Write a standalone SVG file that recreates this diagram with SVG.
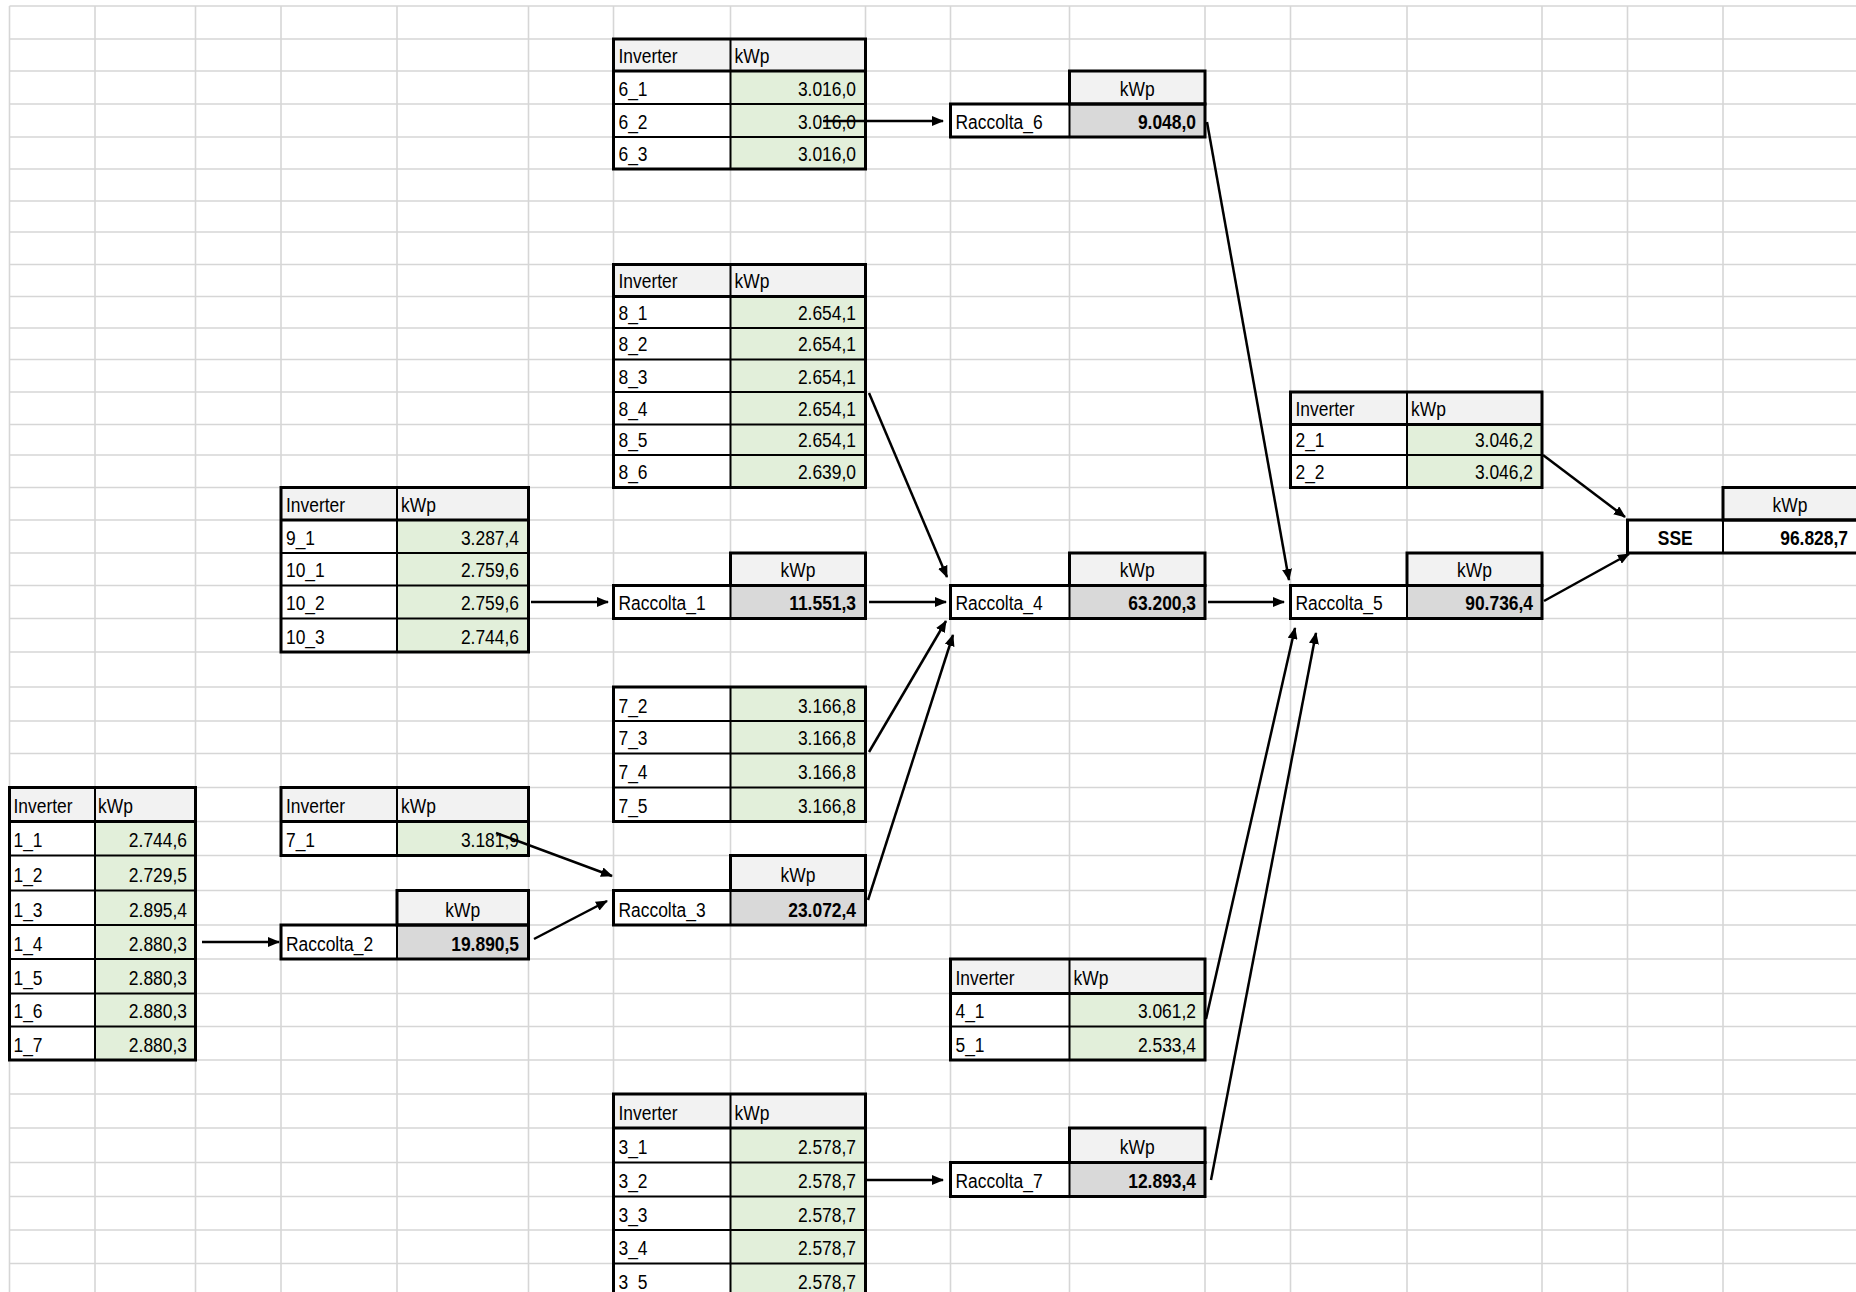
<svg xmlns="http://www.w3.org/2000/svg" width="1856" height="1292" viewBox="0 0 1856 1292">
<style>
.gl{stroke:#d6d6d6;stroke-width:1.6;fill:none}
.hdr{fill:#f2f2f2}
.wt{fill:#ffffff}
.val{fill:#e2efda}
.tot{fill:#d9d9d9}
.in{stroke:#000;stroke-width:2;fill:none}
.out{stroke:#000;stroke-width:3;fill:none}
text{font-family:"Liberation Sans",Arial,sans-serif;font-size:21px;fill:#000;transform-box:fill-box;transform-origin:left center;transform:scaleX(0.83)}
.r{text-anchor:end;transform-origin:right center}
.c{text-anchor:middle;transform-origin:center center}
.b{font-weight:bold}
.cn{stroke:#000;stroke-width:2.5;fill:none;marker-end:url(#ah)}
</style>
<defs>
<marker id="ah" markerUnits="userSpaceOnUse" markerWidth="12" markerHeight="10" refX="11" refY="5" orient="auto">
<path d="M0,0 L12,5 L0,10 z" fill="#000"/>
</marker>
</defs>
<rect x="0" y="0" width="1856" height="1292" fill="#fff"/>
<g id="grid">
<path class="gl" d="M9.5,6V1292M95,6V1292M195.5,6V1292M281,6V1292M397,6V1292M528.5,6V1292M613.5,6V1292M730.5,6V1292M865.5,6V1292M950.5,6V1292M1069.5,6V1292M1205,6V1292M1290.5,6V1292M1407,6V1292M1542,6V1292M1627.5,6V1292M1723,6V1292"/>
<path class="gl" d="M9.5,6H1856M9.5,39H1856M9.5,71H1856M9.5,104H1856M9.5,137H1856M9.5,169H1856M9.5,201H1856M9.5,232H1856M9.5,264.5H1856M9.5,296.5H1856M9.5,328H1856M9.5,359.5H1856M9.5,392H1856M9.5,424.5H1856M9.5,455H1856M9.5,487.5H1856M9.5,520H1856M9.5,553H1856M9.5,585.5H1856M9.5,618.5H1856M9.5,652H1856M9.5,687H1856M9.5,721H1856M9.5,753.5H1856M9.5,787.5H1856M9.5,821.5H1856M9.5,855.5H1856M9.5,890.5H1856M9.5,925H1856M9.5,959H1856M9.5,993.5H1856M9.5,1026.5H1856M9.5,1060H1856M9.5,1094H1856M9.5,1128H1856M9.5,1162.5H1856M9.5,1196.5H1856M9.5,1230H1856M9.5,1263.5H1856"/>
</g>

<g id="table6">
<rect class="hdr" x="613.5" y="39" width="252" height="32"/>
<rect class="wt" x="613.5" y="71" width="117" height="98"/>
<rect class="val" x="730.5" y="71" width="135" height="98"/>
<path class="in" d="M613.5,104H865.5M613.5,137H865.5M730.5,39V169"/>
<path class="out" d="M613.5,71H865.5"/>
<rect class="out" x="613.5" y="39" width="252" height="130"/>
<text x="618.5" y="63">Inverter</text><text x="734.5" y="63">kWp</text>
<text x="618.5" y="96">6_1</text><text class="r" x="856" y="96">3.016,0</text>
<text x="618.5" y="129">6_2</text><text class="r" x="856" y="129">3.016,0</text>
<text x="618.5" y="161">6_3</text><text class="r" x="856" y="161">3.016,0</text>
</g>

<g id="raccolta6">
<rect class="hdr" x="1069.5" y="71" width="135.5" height="33"/>
<rect class="wt" x="950.5" y="104" width="119" height="33"/>
<rect class="tot" x="1069.5" y="104" width="135.5" height="33"/>
<rect class="out" x="1069.5" y="71" width="135.5" height="33"/>
<rect class="out" x="950.5" y="104" width="254.5" height="33"/>
<path class="in" d="M1069.5,104V137"/>
<text class="c" x="1137.25" y="96">kWp</text>
<text x="955.5" y="129">Raccolta_6</text><text class="r b" x="1196" y="129">9.048,0</text>
</g>

<g id="table8">
<rect class="hdr" x="613.5" y="264.5" width="252" height="32"/>
<rect class="wt" x="613.5" y="296.5" width="117" height="191"/>
<rect class="val" x="730.5" y="296.5" width="135" height="191"/>
<path class="in" d="M613.5,328H865.5M613.5,359.5H865.5M613.5,392H865.5M613.5,424.5H865.5M613.5,455H865.5M730.5,264.5V487.5"/>
<path class="out" d="M613.5,296.5H865.5"/>
<rect class="out" x="613.5" y="264.5" width="252" height="223"/>
<text x="618.5" y="288.5">Inverter</text><text x="734.5" y="288.5">kWp</text>
<text x="618.5" y="320">8_1</text><text class="r" x="856" y="320">2.654,1</text>
<text x="618.5" y="351.5">8_2</text><text class="r" x="856" y="351.5">2.654,1</text>
<text x="618.5" y="384">8_3</text><text class="r" x="856" y="384">2.654,1</text>
<text x="618.5" y="416.5">8_4</text><text class="r" x="856" y="416.5">2.654,1</text>
<text x="618.5" y="447">8_5</text><text class="r" x="856" y="447">2.654,1</text>
<text x="618.5" y="479.5">8_6</text><text class="r" x="856" y="479.5">2.639,0</text>
</g>

<g id="table2">
<rect class="hdr" x="1290.5" y="392" width="251.5" height="32.5"/>
<rect class="wt" x="1290.5" y="424.5" width="116.5" height="63"/>
<rect class="val" x="1407" y="424.5" width="135" height="63"/>
<path class="in" d="M1290.5,455H1542M1407,392V487.5"/>
<path class="out" d="M1290.5,424.5H1542"/>
<rect class="out" x="1290.5" y="392" width="251.5" height="95.5"/>
<text x="1295.5" y="416.5">Inverter</text><text x="1411" y="416.5">kWp</text>
<text x="1295.5" y="447">2_1</text><text class="r" x="1533" y="447">3.046,2</text>
<text x="1295.5" y="479.5">2_2</text><text class="r" x="1533" y="479.5">3.046,2</text>
</g>

<g id="sse">
<rect class="hdr" x="1723" y="487.5" width="135" height="32.5"/>
<rect class="wt" x="1627.5" y="520" width="230" height="33"/>
<rect class="out" x="1723" y="487.5" width="135" height="32.5"/>
<rect class="out" x="1627.5" y="520" width="230" height="33"/>
<path class="in" d="M1723,520V553"/>
<text class="c" x="1790" y="512">kWp</text>
<text class="c b" x="1675.25" y="545">SSE</text><text class="r b" x="1848" y="545">96.828,7</text>
</g>

<g id="table9_10">
<rect class="hdr" x="281" y="487.5" width="247.5" height="32.5"/>
<rect class="wt" x="281" y="520" width="116" height="132"/>
<rect class="val" x="397" y="520" width="131.5" height="132"/>
<path class="in" d="M281,553H528.5M281,585.5H528.5M281,618.5H528.5M397,487.5V652"/>
<path class="out" d="M281,520H528.5"/>
<rect class="out" x="281" y="487.5" width="247.5" height="164.5"/>
<text x="286" y="512">Inverter</text><text x="401" y="512">kWp</text>
<text x="286" y="545">9_1</text><text class="r" x="519" y="545">3.287,4</text>
<text x="286" y="577.5">10_1</text><text class="r" x="519" y="577.5">2.759,6</text>
<text x="286" y="610.5">10_2</text><text class="r" x="519" y="610.5">2.759,6</text>
<text x="286" y="644">10_3</text><text class="r" x="519" y="644">2.744,6</text>
</g>

<g id="raccolta1">
<rect class="hdr" x="730.5" y="553" width="135" height="32.5"/>
<rect class="wt" x="613.5" y="585.5" width="117" height="33"/>
<rect class="tot" x="730.5" y="585.5" width="135" height="33"/>
<rect class="out" x="730.5" y="553" width="135" height="32.5"/>
<rect class="out" x="613.5" y="585.5" width="252" height="33"/>
<path class="in" d="M730.5,585.5V618.5"/>
<text class="c" x="798" y="577.5">kWp</text>
<text x="618.5" y="610.5">Raccolta_1</text><text class="r b" x="856" y="610.5">11.551,3</text>
</g>

<g id="raccolta4">
<rect class="hdr" x="1069.5" y="553" width="135.5" height="32.5"/>
<rect class="wt" x="950.5" y="585.5" width="119" height="33"/>
<rect class="tot" x="1069.5" y="585.5" width="135.5" height="33"/>
<rect class="out" x="1069.5" y="553" width="135.5" height="32.5"/>
<rect class="out" x="950.5" y="585.5" width="254.5" height="33"/>
<path class="in" d="M1069.5,585.5V618.5"/>
<text class="c" x="1137.25" y="577.5">kWp</text>
<text x="955.5" y="610.5">Raccolta_4</text><text class="r b" x="1196" y="610.5">63.200,3</text>
</g>

<g id="raccolta5">
<rect class="hdr" x="1407" y="553" width="135" height="32.5"/>
<rect class="wt" x="1290.5" y="585.5" width="116.5" height="33"/>
<rect class="tot" x="1407" y="585.5" width="135" height="33"/>
<rect class="out" x="1407" y="553" width="135" height="32.5"/>
<rect class="out" x="1290.5" y="585.5" width="251.5" height="33"/>
<path class="in" d="M1407,585.5V618.5"/>
<text class="c" x="1474.5" y="577.5">kWp</text>
<text x="1295.5" y="610.5">Raccolta_5</text><text class="r b" x="1533" y="610.5">90.736,4</text>
</g>

<g id="table7b">
<rect class="wt" x="613.5" y="687" width="117" height="134.5"/>
<rect class="val" x="730.5" y="687" width="135" height="134.5"/>
<path class="in" d="M613.5,721H865.5M613.5,753.5H865.5M613.5,787.5H865.5M730.5,687V821.5"/>
<rect class="out" x="613.5" y="687" width="252" height="134.5"/>
<text x="618.5" y="713">7_2</text><text class="r" x="856" y="713">3.166,8</text>
<text x="618.5" y="745.5">7_3</text><text class="r" x="856" y="745.5">3.166,8</text>
<text x="618.5" y="779.5">7_4</text><text class="r" x="856" y="779.5">3.166,8</text>
<text x="618.5" y="813.5">7_5</text><text class="r" x="856" y="813.5">3.166,8</text>
</g>

<g id="table1">
<rect class="hdr" x="9.5" y="787.5" width="186" height="34"/>
<rect class="wt" x="9.5" y="821.5" width="85.5" height="238.5"/>
<rect class="val" x="95" y="821.5" width="100.5" height="238.5"/>
<path class="in" d="M9.5,855.5H195.5M9.5,890.5H195.5M9.5,925H195.5M9.5,959H195.5M9.5,993.5H195.5M9.5,1026.5H195.5M95,787.5V1060"/>
<path class="out" d="M9.5,821.5H195.5"/>
<rect class="out" x="9.5" y="787.5" width="186" height="272.5"/>
<text x="13.5" y="813.5">Inverter</text><text x="98" y="813.5">kWp</text>
<text x="13.5" y="847.5">1_1</text><text class="r" x="187" y="847.5">2.744,6</text>
<text x="13.5" y="882.5">1_2</text><text class="r" x="187" y="882.5">2.729,5</text>
<text x="13.5" y="917">1_3</text><text class="r" x="187" y="917">2.895,4</text>
<text x="13.5" y="951">1_4</text><text class="r" x="187" y="951">2.880,3</text>
<text x="13.5" y="985.5">1_5</text><text class="r" x="187" y="985.5">2.880,3</text>
<text x="13.5" y="1018.5">1_6</text><text class="r" x="187" y="1018.5">2.880,3</text>
<text x="13.5" y="1052">1_7</text><text class="r" x="187" y="1052">2.880,3</text>
</g>

<g id="table7a">
<rect class="hdr" x="281" y="787.5" width="247.5" height="34"/>
<rect class="wt" x="281" y="821.5" width="116" height="34"/>
<rect class="val" x="397" y="821.5" width="131.5" height="34"/>
<path class="in" d="M397,787.5V855.5"/>
<path class="out" d="M281,821.5H528.5"/>
<rect class="out" x="281" y="787.5" width="247.5" height="68"/>
<text x="286" y="813.5">Inverter</text><text x="401" y="813.5">kWp</text>
<text x="286" y="847.5">7_1</text><text class="r" x="519" y="847.5">3.181,9</text>
</g>

<g id="raccolta3">
<rect class="hdr" x="730.5" y="855.5" width="135" height="35"/>
<rect class="wt" x="613.5" y="890.5" width="117" height="34.5"/>
<rect class="tot" x="730.5" y="890.5" width="135" height="34.5"/>
<rect class="out" x="730.5" y="855.5" width="135" height="35"/>
<rect class="out" x="613.5" y="890.5" width="252" height="34.5"/>
<path class="in" d="M730.5,890.5V925"/>
<text class="c" x="798" y="882.5">kWp</text>
<text x="618.5" y="917">Raccolta_3</text><text class="r b" x="856" y="917">23.072,4</text>
</g>

<g id="raccolta2">
<rect class="hdr" x="397" y="890.5" width="131.5" height="34.5"/>
<rect class="wt" x="281" y="925" width="116" height="34"/>
<rect class="tot" x="397" y="925" width="131.5" height="34"/>
<rect class="out" x="397" y="890.5" width="131.5" height="34.5"/>
<rect class="out" x="281" y="925" width="247.5" height="34"/>
<path class="in" d="M397,925V959"/>
<text class="c" x="462.75" y="917">kWp</text>
<text x="286" y="951">Raccolta_2</text><text class="r b" x="519" y="951">19.890,5</text>
</g>

<g id="table4_5">
<rect class="hdr" x="950.5" y="959" width="254.5" height="34.5"/>
<rect class="wt" x="950.5" y="993.5" width="119" height="66.5"/>
<rect class="val" x="1069.5" y="993.5" width="135.5" height="66.5"/>
<path class="in" d="M950.5,1026.5H1205M1069.5,959V1060"/>
<path class="out" d="M950.5,993.5H1205"/>
<rect class="out" x="950.5" y="959" width="254.5" height="101"/>
<text x="955.5" y="985.5">Inverter</text><text x="1073.5" y="985.5">kWp</text>
<text x="955.5" y="1018.5">4_1</text><text class="r" x="1196" y="1018.5">3.061,2</text>
<text x="955.5" y="1052">5_1</text><text class="r" x="1196" y="1052">2.533,4</text>
</g>

<g id="table3">
<rect class="hdr" x="613.5" y="1094" width="252" height="34"/>
<rect class="wt" x="613.5" y="1128" width="117" height="172"/>
<rect class="val" x="730.5" y="1128" width="135" height="172"/>
<path class="in" d="M613.5,1162.5H865.5M613.5,1196.5H865.5M613.5,1230H865.5M613.5,1263.5H865.5M730.5,1094V1300"/>
<path class="out" d="M613.5,1128H865.5"/>
<rect class="out" x="613.5" y="1094" width="252" height="206"/>
<text x="618.5" y="1120">Inverter</text><text x="734.5" y="1120">kWp</text>
<text x="618.5" y="1154.5">3_1</text><text class="r" x="856" y="1154.5">2.578,7</text>
<text x="618.5" y="1188.5">3_2</text><text class="r" x="856" y="1188.5">2.578,7</text>
<text x="618.5" y="1222">3_3</text><text class="r" x="856" y="1222">2.578,7</text>
<text x="618.5" y="1255.5">3_4</text><text class="r" x="856" y="1255.5">2.578,7</text>
<text x="618.5" y="1289">3_5</text><text class="r" x="856" y="1289">2.578,7</text>
</g>

<g id="raccolta7">
<rect class="hdr" x="1069.5" y="1128" width="135.5" height="34.5"/>
<rect class="wt" x="950.5" y="1162.5" width="119" height="34"/>
<rect class="tot" x="1069.5" y="1162.5" width="135.5" height="34"/>
<rect class="out" x="1069.5" y="1128" width="135.5" height="34.5"/>
<rect class="out" x="950.5" y="1162.5" width="254.5" height="34"/>
<path class="in" d="M1069.5,1162.5V1196.5"/>
<text class="c" x="1137.25" y="1154.5">kWp</text>
<text x="955.5" y="1188.5">Raccolta_7</text><text class="r b" x="1196" y="1188.5">12.893,4</text>
</g>

<g id="connectors">
<line class="cn" x1="823" y1="121" x2="943" y2="121"/>
<line class="cn" x1="1207" y1="122" x2="1289" y2="580"/>
<line class="cn" x1="869" y1="393" x2="947" y2="577"/>
<line class="cn" x1="531" y1="602" x2="608" y2="602"/>
<line class="cn" x1="869" y1="602" x2="946" y2="602"/>
<line class="cn" x1="869" y1="752" x2="946" y2="621"/>
<line class="cn" x1="868" y1="900" x2="953" y2="635"/>
<line class="cn" x1="1208" y1="602" x2="1284" y2="602"/>
<line class="cn" x1="1543" y1="455" x2="1625" y2="517"/>
<line class="cn" x1="1544" y1="601" x2="1629" y2="554"/>
<line class="cn" x1="1206" y1="1019" x2="1295" y2="628"/>
<line class="cn" x1="1211" y1="1180" x2="1316" y2="633"/>
<line class="cn" x1="202" y1="942" x2="279" y2="942"/>
<line class="cn" x1="496" y1="833" x2="612" y2="876"/>
<line class="cn" x1="534" y1="939" x2="607" y2="901"/>
<line class="cn" x1="866" y1="1180" x2="943" y2="1180"/>
</g>
</svg>
